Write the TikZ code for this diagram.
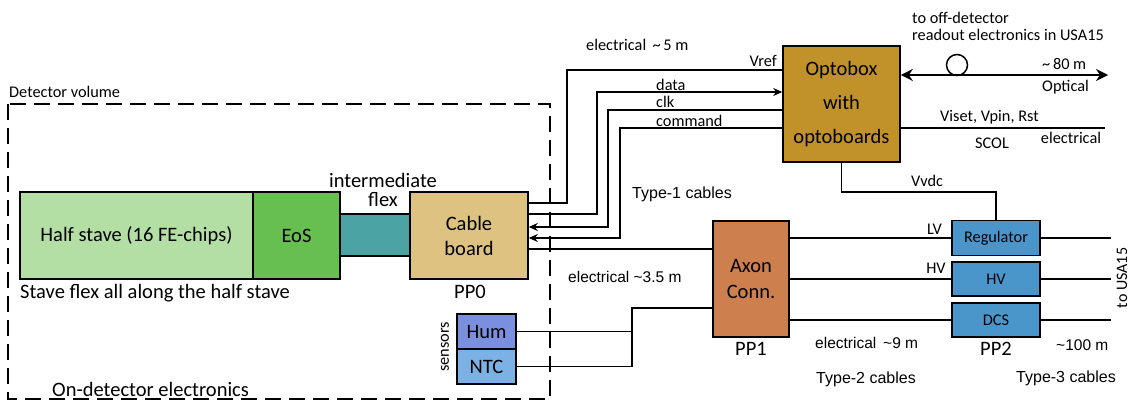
\documentclass[tikz,border=0pt]{standalone}
\usepackage{fontspec}
\setmainfont{Carlito}
\newfontfamily\arialf{Liberation Sans}
\usetikzlibrary{arrows.meta}
\newcommand{\myBig}{\fontsize{20.5}{25}\selectfont}
\newcommand{\mySmall}{\fontsize{16.3}{17}\selectfont}
\newcommand{\myArial}{\arialf\fontsize{15.5}{17}\selectfont}
\definecolor{cStave}{HTML}{B3DFA5}
\definecolor{cEoS}{HTML}{66BF4F}
\definecolor{cFlex}{HTML}{4BA3A3}
\definecolor{cCable}{HTML}{DDC282}
\definecolor{cOpto}{HTML}{C19229}
\definecolor{cAxon}{HTML}{CD7F4E}
\definecolor{cPP}{HTML}{4A96CB}
\definecolor{cHum}{HTML}{7A8FE0}
\definecolor{cNTC}{HTML}{7BB1E5}
\begin{document}
\begin{tikzpicture}[x=1pt,y=-1pt,
  box/.style={draw, line width=1.6pt, inner sep=0pt, align=center, font=\myBig},
  wire/.style={line width=1.6pt},
  lbl/.style={inner sep=0pt, font=\mySmall},
  blbl/.style={inner sep=0pt, font=\myBig},
  albl/.style={inner sep=0pt, font=\myArial},
  tip/.style={-{Stealth[length=9pt,width=8pt,inset=3pt]}},
  dbl/.style={{Stealth[length=12pt,width=12pt,inset=4pt]}-{Stealth[length=12pt,width=12pt,inset=4pt]}}
]
\useasboundingbox (0,0) rectangle (1132,403);

% detector volume
\draw[line width=1.5pt, dash pattern=on 16pt off 8pt] (8,104) rectangle (550,399);
\node[lbl, anchor=west] (detvol) at (9,92) {Detector volume};
\node[blbl, anchor=west] (ondet) at (52,389) {On-detector electronics};

% stave chain
\node[box, fill=cStave, minimum width=233pt, minimum height=87pt] (hs) at (136.5,235.5) {Half stave (16 FE-chips)};
\node[box, fill=cEoS, minimum width=87pt, minimum height=87pt] (eos) at (296.5,235.5) {EoS};
\node[box, fill=cFlex, minimum width=70pt, minimum height=42pt] (flex) at (375,235) {};
\node[box, fill=cCable, minimum width=118pt, minimum height=87pt] (cb) at (469,235.5) {Cable\\board};
\node[blbl, anchor=west] (staveflex) at (20,293) {Stave flex all along the half stave};
\node[blbl, align=center, font=\fontsize{20.5}{19.5}\selectfont] (interm) at (383,190) {intermediate\\flex};
\node[blbl] (pp0) at (470,292) {PP0};

% sensors
\node[box, fill=cHum, minimum width=59pt, minimum height=35pt] (hum) at (486.5,331.5) {Hum};
\node[box, fill=cNTC, minimum width=59pt, minimum height=35pt] (ntc) at (486.5,366.5) {NTC};
\node[lbl, rotate=90] (sens) at (445,347) {sensors};

% optobox
\node[box, fill=cOpto, minimum width=117pt, minimum height=116pt, font=\fontsize{20.5}{34}\selectfont] (opto) at (841.5,104) {Optobox\\with\\optoboards};

% PP1
\node[box, fill=cAxon, minimum width=76pt, minimum height=116pt, font=\fontsize{20.5}{26}\selectfont] (axon) at (751,279) {Axon\\Conn.};
\node[blbl] (pp1) at (751,349) {PP1};

% PP2
\node[box, fill=cPP, minimum width=88pt, minimum height=35pt, font=\mySmall] (reg) at (996,238) {Regulator};
\node[box, fill=cPP, minimum width=88pt, minimum height=34pt, font=\mySmall] (hv) at (996,279) {HV};
\node[box, fill=cPP, minimum width=88pt, minimum height=34pt, font=\mySmall] (dcs) at (996,320) {DCS};
\node[blbl] (pp2) at (996,349) {PP2};

% type-1 cables
\draw[wire] (cb.east |- 0,203) -| (567,70) -- (opto.west |- 0,70);
\draw[wire, tip] (cb.east |- 0,214) -| (597,92) -- (opto.west |- 0,92);
\draw[wire, tip] (opto.west |- 0,110) -| (608,227) -- (cb.east |- 0,227);
\draw[wire, tip] (opto.west |- 0,128) -| (620,238) -- (cb.east |- 0,238);
\draw[wire] (cb.east |- 0,249) -- (axon.west |- 0,249);
\node[lbl, anchor=west] (el5) at (586,45) {electrical \,\textasciitilde\,5 m};
\node[lbl, anchor=east] (vref) at (777,61) {Vref};
\node[lbl, anchor=west] (datal) at (656,85) {data};
\node[lbl, anchor=west] (clkl) at (656,102) {clk};
\node[lbl, anchor=west] (cmdl) at (656,121) {command};
\node[albl, anchor=west, font=\arialf\fontsize{16}{17}\selectfont] (t1) at (632,194) {Type-1 cables};

% sensor wires
\draw[wire] (ntc.east) -| (632,308) -- (axon.west |- 0,308);
\draw[wire] (hum.east) -- (hum.east -| 632,0);
\node[albl, anchor=west] (el35) at (568,277) {electrical \textasciitilde3.5 m};

% optical and SCOL
\draw[wire, dbl] (opto.east |- 0,75) -- (1108,75);
\node[draw, circle, line width=1.5pt, minimum size=21pt, inner sep=0pt] (fiber) at (957,65) {};
\node[lbl, anchor=west, align=left, font=\fontsize{16.3}{17}\selectfont] (offdet) at (912,26.5) {to off-detector\\readout electronics in USA15};
\node[lbl, anchor=west] (m80) at (1042,64) {\textasciitilde\,80 m};
\node[lbl, anchor=west] (optl) at (1042,87) {Optical};
\draw[wire] (opto.east |- 0,128) -- (1105,128);
\node[lbl] (viset) at (989.5,117) {Viset, Vpin, Rst};
\node[lbl] (scol) at (992,143) {SCOL};
\node[lbl] (elec2) at (1071,138) {electrical};

% Vvdc
\draw[wire] (opto.south) |- (reg.north |- 0,192) -- (reg.north);
\node[lbl] (vvdc) at (927,181) {Vvdc};

% type-2 cables
\draw[wire] (axon.east |- reg.west) -- (reg.west);
\draw[wire] (axon.east |- hv.west) -- (hv.west);
\draw[wire] (axon.east |- dcs.west) -- (dcs.west);
\node[lbl] (lvl) at (934.5,229) {LV};
\node[lbl] (hvl) at (936,268) {HV};
\node[albl, anchor=west] (el9) at (815,343) {electrical \,\textasciitilde9 m};
\node[albl, anchor=west, font=\arialf\fontsize{16}{17}\selectfont] (t2) at (816,379) {Type-2 cables};

% type-3 cables
\coordinate (o1) at (1111,238);
\coordinate (o2) at (1111,279);
\coordinate (o3) at (1111,320);
\draw[wire] (reg.east) -- (o1);
\draw[wire] (hv.east) -- (o2);
\draw[wire] (dcs.east) -- (o3);
\node[lbl, rotate=90, font=\fontsize{16}{17}\selectfont] (usa) at (1122,278) {to USA15};
\node[albl, anchor=west] (m100) at (1056,345) {\textasciitilde100 m};
\node[albl, anchor=west, font=\arialf\fontsize{16}{17}\selectfont] (t3) at (1016,378) {Type-3 cables};
\end{tikzpicture}
\end{document}
